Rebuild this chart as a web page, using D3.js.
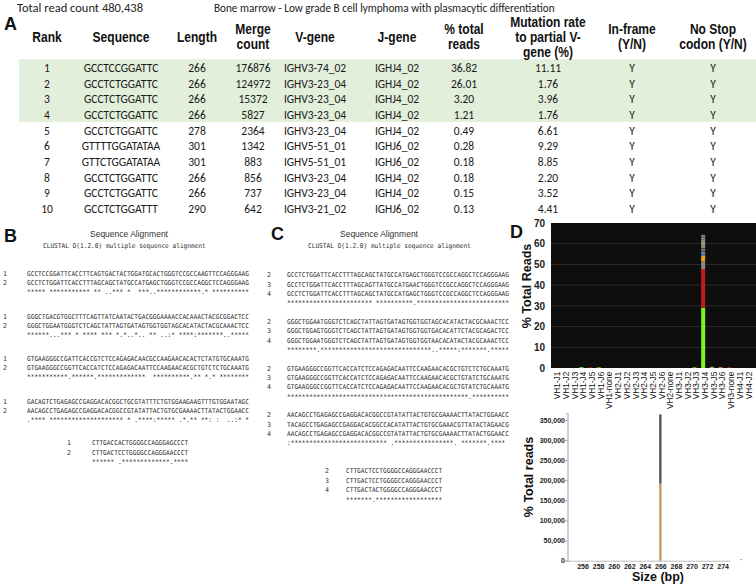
<!DOCTYPE html>
<html><head><meta charset="utf-8">
<script src="https://cdn.jsdelivr.net/npm/d3@7"></script>
<style>body{margin:0;background:#fff}svg{display:block}</style>
</head><body><svg id="c" width="756" height="584"></svg>
<script>
// ---------- DATA ----------
const headers = [["Rank"],["Sequence"],["Length"],["Merge","count"],["V-gene"],["J-gene"],["% total","reads"],["Mutation rate","to partial V-","gene (%)"],["In-frame","(Y/N)"],["No Stop","codon (Y/N)"]];
const ranks = [1,2,3,4,5,6,7,8,9,10];
const sequences = ["GCCTCCGGATTC","GCCTCTGGATTC","GCCTCTGGATTC","GCCTCTGGATTC","GCCTCTGGATTC","GTTTTGGATATAA","GTTCTGGATATAA","GCCTCTGGATTC","GCCTCTGGATTC","GCCTCTGGATTT"];
const lengths = [266,266,266,266,278,301,301,266,266,290];
const mergeCounts = [176876,124972,15372,5827,2364,1342,883,856,737,642];
const vGenes = ["IGHV3-74_02","IGHV3-23_04","IGHV3-23_04","IGHV3-23_04","IGHV3-23_04","IGHV5-51_01","IGHV5-51_01","IGHV3-23_04","IGHV3-23_04","IGHV3-21_02"];
const jGenes = ["IGHJ4_02","IGHJ4_02","IGHJ4_02","IGHJ4_02","IGHJ4_02","IGHJ6_02","IGHJ6_02","IGHJ4_02","IGHJ4_02","IGHJ6_02"];
const pctTotal = ["36.82","26.01","3.20","1.21","0.49","0.28","0.18","0.18","0.15","0.13"];
const mutRate = ["11.11","1.76","3.96","1.76","6.61","9.29","8.85","2.20","3.52","4.41"];
const inFrame = ["Y","Y","Y","Y","Y","Y","Y","Y","Y","Y"];
const noStop = ["Y","Y","Y","Y","Y","Y","Y","Y","Y","Y"];
const highlightedRanks = [1,2,3,4];

// Alignment B (sequences 1 and 2)
const alignBLabels = ["1","2"];
const alignBSeq1 = ["GCCTCCGGATTCACCTTCAGTGACTACTGGATGCACTGGGTCCGCCAAGTTCCAGGGAAG","GGGCTGACGTGGCTTTCAGTTATCAATACTGACGGGAAAACCACAAACTACGCGGACTCC","GTGAAGGGCCGATTCACCGTCTCCAGAGACAACGCCAAGAACACACTCTATGTGCAAATG","GACAGTCTGAGAGCCGAGGACACGGCTGCGTATTTCTGTGGAAGAAGTTTGTGGAATAGC","CTTGACCACTGGGGCCAGGGAGCCCT"];
const alignBSeq2 = ["GCCTCTGGATTCACCTTTAGCAGCTATGCCATGAGCTGGGTCCGCCAGGCTCCAGGGAAG","GGGCTGGAATGGGTCTCAGCTATTAGTGATAGTGGTGGTAGCACATACTACGCAAACTCC","GTGAAGGGCCGGTTCACCATCTCCAGAGACAATTCCAAGAACACGCTGTCTCTGCAAATG","AACAGCCTGAGAGCCGAGGACACGGCCGTATATTACTGTGCGAAAACTTATACTGGAACC","CTTGACTCCTGGGGCCAGGGAACCCT"];
const alignBCons = [
 "***** *********** ** ..*** *  ***..************.* **********",
 "******...*** * **** *** *.*..*.. ** ..:* ****:*******..*****",
 "***********.******.*************  **********.** *.* ********",
 ".**** ******************** * .****:***** .*.** **: :  ..:* *",
 "****** .*************.****"];
// Alignment C (sequences 2, 3 and 4)
const alignCLabels = ["2","3","4"];
const alignCSeq2 = ["GCCTCTGGATTCACCTTTAGCAGCTATGCCATGAGCTGGGTCCGCCAGGCTCCAGGGAAG","GGGCTGGAATGGGTCTCAGCTATTAGTGATAGTGGTGGTAGCACATACTACGCAAACTCC","GTGAAGGGCCGGTTCACCATCTCCAGAGACAATTCCAAGAACACGCTGTCTCTGCAAATG","AACAGCCTGAGAGCCGAGGACACGGCCGTATATTACTGTGCGAAAACTTATACTGGAACC","CTTGACTCCTGGGGCCAGGGAACCCT"];
const alignCSeq3 = ["GCCTCTGGATTCACCTTTAGCAGTTATGCCATGAACTGGGTCCGCCAGGCTCCAGGGAAG","GGGCTGGAGTGGGTCTCAGCTATTAGTGATAGTGGTGGTGACACATTCTACGCAGACTCC","GTGAAGGGCCGGTTCACCATCTCCAGAGACAATTCCAAGAACACGCTGTATCTGCAAATG","TACAGCCTGAGAGCCGAGGACACGGCCACATATTACTGTGCGAAACGTTATACTAGAACG","CTTGACTCCTGGGGCCAGGGAACCCT"];
const alignCSeq4 = ["GCCTCTGGATTCACCTTTAGCAGCTATGCCATGAGCTGGGTCCGCCAGGCTCCAGGGAAG","GGGCTGGAATGGGTCTCAGCTATTAGTGATAGTGGTGGTAACACATACTACGCAAACTCC","GTGAAGGGCCGGTTCACCATCTCCAGAGACAATTCCAAGAACACGCTGTATCTGCAAATG","AACAGCCTGAGAGCCGAGGACACGGCCGTATATTACTGTGCGAAAACTTATACTGGAACC","CTTGACTACTGGGGCCAGGGAACCCT"];
const alignCCons = [
 "*********************** **********.*************************",
 "********.******************************..*****:*******.*****",
 "*************************************************.**********",
 ":************************** .****************. *******.**** ",
 "*******.******************"];

// Panel D upper: V-J usage
const vjCategories = ["VH1-J1","VH1-J2","VH1-J3","VH1-J4","VH1-J5","VH1-J6","VH1-none","VH2-J1","VH2-J2","VH2-J3","VH2-J4","VH2-J5","VH2-J6","VH2-none","VH3-J1","VH3-J2","VH3-J3","VH3-J4","VH3-J5","VH3-J6","VH3-none","VH4-J1","VH4-J2"];
const vh3j4Segments = [29.1,18.7,3.6,2.9,1.1,0.8,0.5,0.7,0.4,1.5,1.5,1.2,1.0,1.3];
const vh3j4Colors = ["#7ef51f","#c41c1c","#8a8a8a","#e6a51e","#4f7fcc","#8593a8","#2c3d72","#b59f72","#1f2e5e","#8c8c8c","#ad9b73","#8e8e84","#a39472","#7d7d7d"];
const minorCats = ["VH1-J4","VH1-J5","VH1-J6","VH3-J3","VH3-J5","VH3-J6","VH3-none"];
const minorValues = [0.4,0.3,0.3,0.3,0.6,0.4,0.3];
const minorColors = ["#7ef51f","#c41c1c","#7ef51f","#7ef51f","#b59f72","#c8a050","#c43c3c"];
const vjTicks = [0,10,20,30,40,50,60,70];

// Panel D lower: size distribution
const sizeTicks = [256,258,260,262,264,266,268,270,272,274];
const sizeBars = [266];
const sizeSegA = [192000];
const sizeSegB = [172000];
const sizeColors = ["#c4995c","#4b5056"];

// ---------- DRAW ----------
const svg = d3.select("#c");
const calibri = "Carlito, Lato, 'Open Sans', sans-serif";
const arial = "'Liberation Sans', Arial, sans-serif";
const mono = "'DejaVu Sans Mono','Liberation Mono',monospace";

svg.append("text").attr("x",17).attr("y",12).attr("font-family",calibri).attr("font-size",12.5).attr("fill","#222").text("Total read count 480,438");
svg.append("text").attr("x",214).attr("y",12).attr("font-family",calibri).attr("font-size",11.2).attr("fill","#222").text("Bone marrow - Low grade B cell lymphoma with plasmacytic differentiation");

function panelLetter(t,x,y){svg.append("text").attr("x",x).attr("y",y).attr("font-family",arial).attr("font-weight","bold").attr("font-size",18).attr("fill","#111").text(t);}
panelLetter("A",4,30);

// Table
const colX = [47,121,197,253,315,397,464,548,632,713];
const yRow = d3.scalePoint().domain(ranks).range([68,209]);
const step = yRow.step();
svg.append("rect").attr("x",19).attr("width",756-19)
  .attr("y",yRow(highlightedRanks[0])-step*0.56)
  .attr("height",yRow(highlightedRanks[highlightedRanks.length-1])-yRow(highlightedRanks[0])+step)
  .attr("fill","#e2efda");

const sx = 0.86;
const hdr = svg.append("g").attr("transform",`scale(${sx},1)`)
  .attr("font-family",arial).attr("font-weight","bold").attr("font-size",14).attr("fill","#111").attr("text-anchor","middle");
headers.forEach((lines,i)=>{
  lines.forEach((l,j)=>{
    hdr.append("text").attr("x",colX[i]/sx).attr("y",37-(lines.length-1)*7.5+j*15).attr("dy","0.35em").text(l);
  });
});

const columns = [ranks, sequences, lengths, mergeCounts, vGenes, jGenes, pctTotal, mutRate, inFrame, noStop];
const body = svg.append("g").attr("font-family",calibri).attr("font-size",11.5).attr("fill","#1a1a1a").attr("text-anchor","middle");
columns.forEach((col,i)=>{
  body.selectAll(null).data(col).join("text")
    .attr("x",colX[i]).attr("y",(d,k)=>yRow(ranks[k])).attr("dy","0.35em").text(d=>d);
});

// Alignments
const charW = 3.7;
function alnText(g,x,y,s){
  g.append("text").attr("x",x).attr("y",y).attr("dy","0.35em")
   .attr("textLength",s.length*charW).attr("lengthAdjust","spacingAndGlyphs")
   .attr("xml:space","preserve").style("white-space","pre").text(s);
}
function drawAlign(opt){
  const g = svg.append("g").attr("font-family",mono).attr("font-size",6.6).attr("fill","#2e2e2e");
  const nSeq = opt.seqs.length;
  opt.blockY.forEach((by,b)=>{
    for(let s=0;s<nSeq;s++){
      const y = by + s*opt.lh;
      g.append("text").attr("x",opt.labX).attr("y",y).attr("dy","0.35em").text(opt.labels[s]);
      alnText(g,opt.seqX,y,opt.seqs[s][b]);
    }
    alnText(g,opt.seqX,by+nSeq*opt.lh,opt.cons[b]);
  });
  const fb = opt.seqs[0].length-1;
  for(let s=0;s<nSeq;s++){
    const y = opt.finalY + s*opt.flh;
    g.append("text").attr("x",opt.fLabX).attr("y",y).attr("dy","0.35em").text(opt.labels[s]);
    alnText(g,opt.fSeqX,y,opt.seqs[s][fb]);
  }
  alnText(g,opt.fSeqX,opt.finalY+nSeq*opt.flh,opt.cons[fb]);
  svg.append("text").attr("x",opt.titleX).attr("y",234).attr("dy","0.35em").attr("text-anchor","middle")
    .attr("font-family",arial).attr("font-size",8.5).attr("fill","#333").text("Sequence Alignment");
  const cl = "CLUSTAL O(1.2.0) multiple sequence alignment";
  const gc = svg.append("g").attr("font-family",mono).attr("font-size",6.6).attr("fill","#2e2e2e");
  alnText(gc,opt.clX,246,cl);
}
panelLetter("B",4,242);
panelLetter("C",271,240);
drawAlign({seqs:[alignBSeq1,alignBSeq2],labels:alignBLabels,cons:alignBCons,
  blockY:[274,316.5,359,401.5],lh:9,labX:3,seqX:27,finalY:443,flh:9.5,fLabX:67,fSeqX:92,titleX:129,clX:43});
drawAlign({seqs:[alignCSeq2,alignCSeq3,alignCSeq4],labels:alignCLabels,cons:alignCCons,
  blockY:[275,321.7,368.3,415],lh:9.3,labX:267,seqX:287,finalY:471,flh:9.4,fLabX:325,fSeqX:346,titleX:379,clX:308});

// Panel D upper
panelLetter("D",510,238);
const xVJ = d3.scaleBand().domain(vjCategories).range([551,751]).paddingInner(0.54).paddingOuter(0.27);
const yVJ = d3.scaleLinear().domain([0,70]).range([368,223]);
svg.append("rect").attr("x",551).attr("y",yVJ(70)).attr("width",756-551).attr("height",yVJ(0)-yVJ(70)).attr("fill","#0e0e0e");
svg.append("g").selectAll("line").data(vjTicks.filter(t=>t>0&&t<70)).join("line")
  .attr("x1",551).attr("x2",756).attr("y1",d=>yVJ(d)).attr("y2",d=>yVJ(d)).attr("stroke","#2c2c2c").attr("stroke-width",1);
let acc=0;
const segs = vh3j4Segments.map((v,i)=>{const s={y0:acc,y1:acc+v,c:vh3j4Colors[i]};acc+=v;return s;});
svg.append("g").selectAll("rect").data(segs).join("rect")
  .attr("x",xVJ("VH3-J4")).attr("width",xVJ.bandwidth())
  .attr("y",d=>yVJ(d.y1)).attr("height",d=>yVJ(d.y0)-yVJ(d.y1)).attr("fill",d=>d.c);
svg.append("g").selectAll("rect").data(minorCats).join("rect")
  .attr("x",d=>xVJ(d)).attr("width",xVJ.bandwidth())
  .attr("y",(d,i)=>yVJ(minorValues[i])).attr("height",(d,i)=>yVJ(0)-yVJ(minorValues[i])).attr("fill",(d,i)=>minorColors[i]);
const yAxVJ = svg.append("g").attr("transform","translate(545,0)")
  .call(d3.axisLeft(yVJ).tickValues(vjTicks).tickSize(0).tickPadding(0));
yAxVJ.select(".domain").remove();
yAxVJ.selectAll("text").attr("font-family",arial).attr("font-weight","bold").attr("font-size",10).attr("fill","#222");
const xAxVJ = svg.append("g").attr("transform","translate(0,370)")
  .call(d3.axisBottom(xVJ).tickSize(0).tickPadding(0));
xAxVJ.select(".domain").remove();
xAxVJ.selectAll("text").attr("font-family",arial).attr("font-size",8.3).attr("fill","#111")
  .attr("text-anchor","end").attr("dx","-0.2em").attr("dy","0.35em").attr("x",0).attr("y",0)
  .attr("transform",`translate(${xVJ.bandwidth()/2},0) rotate(-90)`);
svg.append("text").attr("transform","translate(531,286) rotate(-90)").attr("text-anchor","middle")
  .attr("font-family",arial).attr("font-weight","bold").attr("font-size",12.5).attr("fill","#111").text("% Total Reads");

// Panel D lower
const xS = d3.scaleLinear().domain([254,275]).range([567,730.4]);
const yS = d3.scaleLinear().domain([0,367000]).range([560.7,413.2]);
svg.append("line").attr("x1",xS(254)).attr("x2",xS(275)).attr("y1",yS(0)+0.5).attr("y2",yS(0)+0.5).attr("stroke","#bdbdbd").attr("stroke-width",1);
svg.append("line").attr("x1",xS(276.2)).attr("x2",xS(276.6)).attr("y1",yS(0)-1).attr("y2",yS(0)-1).attr("stroke","#bdbdbd");
const barW = 2.3;
svg.append("g").selectAll("rect").data(sizeBars).join("rect")
  .attr("x",d=>xS(d)-barW/2).attr("width",barW)
  .attr("y",(d,i)=>yS(sizeSegA[i])).attr("height",(d,i)=>yS(0)-yS(sizeSegA[i])).attr("fill",sizeColors[0]);
svg.append("g").selectAll("rect").data(sizeBars).join("rect")
  .attr("x",d=>xS(d)-barW/2).attr("width",barW)
  .attr("y",(d,i)=>yS(sizeSegA[i]+sizeSegB[i])).attr("height",(d,i)=>yS(sizeSegA[i])-yS(sizeSegA[i]+sizeSegB[i])).attr("fill",sizeColors[1]);
const yAxS = svg.append("g").attr("transform","translate(567.5,0)")
  .call(d3.axisLeft(yS).ticks(7).tickFormat(d3.format(",")).tickSize(2).tickPadding(0.5));
yAxS.select(".domain").attr("stroke","#c4c4c4").attr("stroke-width",1.6);
yAxS.selectAll(".tick line").attr("stroke","#999");
yAxS.selectAll("text").attr("font-family",arial).attr("font-weight","bold").attr("font-size",7).attr("fill","#222");
const xAxS = svg.append("g").attr("transform","translate(0,561)")
  .call(d3.axisBottom(xS).tickValues(sizeTicks).tickSize(0).tickPadding(3));
xAxS.select(".domain").remove();
xAxS.selectAll("text").attr("font-family",arial).attr("font-weight","bold").attr("font-size",7).attr("fill","#222");
svg.append("text").attr("transform","translate(533,477) rotate(-90)").attr("text-anchor","middle")
  .attr("font-family",arial).attr("font-weight","bold").attr("font-size",12.5).attr("fill","#111").text("% Total reads");
svg.append("text").attr("x",658).attr("y",581).attr("text-anchor","middle")
  .attr("font-family",arial).attr("font-weight","bold").attr("font-size",12.5).attr("fill","#111").text("Size (bp)");
</script></body></html>
